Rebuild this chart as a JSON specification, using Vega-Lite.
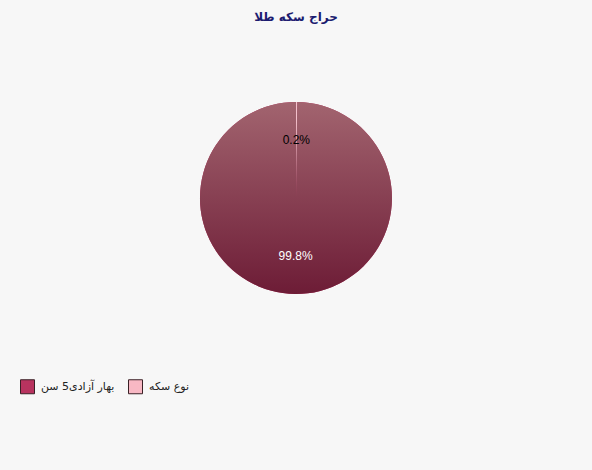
{
  "$schema": "https://vega.github.io/schema/vega-lite/v6.json",
  "width": 572,
  "height": 336,
  "autosize": "none",
  "padding": {"top": 30, "left": 10, "right": 10, "bottom": 104},
  "background": "#f7f7f7",
  "title": {
    "text": "حراج سکه طلا",
    "font": "DejaVu Sans",
    "fontSize": 12,
    "fontWeight": "bold",
    "color": "#1c1c70",
    "anchor": "middle",
    "offset": 6
  },
  "data": {
    "values": [
      {"coin": "نوع سکه", "share": 0.2, "label": "0.2%", "rank": 1},
      {"coin": "بهار آزادی5 سن", "share": 99.8, "label": "99.8%", "rank": 2}
    ]
  },
  "encoding": {
    "theta": {"field": "share", "type": "quantitative", "stack": true},
    "order": {"field": "rank", "type": "ordinal"}
  },
  "layer": [
    {
      "mark": {"type": "arc", "outerRadius": 96},
      "encoding": {
        "color": {
          "field": "coin",
          "type": "nominal",
          "scale": {
            "domain": ["بهار آزادی5 سن", "نوع سکه"],
            "range": ["#b8335f", "#f8b8c4"]
          },
          "legend": {
            "title": null,
            "orient": "none",
            "legendX": 10,
            "legendY": 349,
            "direction": "horizontal",
            "symbolType": "square",
            "symbolSize": 196,
            "symbolStrokeColor": "#3a2026",
            "symbolStrokeWidth": 1,
            "labelFont": "DejaVu Sans",
            "labelFontSize": 11,
            "labelColor": "#222222",
            "labelOffset": 6,
            "columnPadding": 11
          }
        }
      }
    },
    {
      "mark": {"type": "arc", "outerRadius": 96},
      "encoding": {
        "fill": {
          "condition": {
            "test": "datum.rank === 2",
            "value": {
              "gradient": "linear",
              "x1": 0, "y1": 0, "x2": 0, "y2": 1,
              "stops": [
                {"offset": 0, "color": "#a2646f"},
                {"offset": 1, "color": "#6d1c36"}
              ]
            }
          },
          "value": "#f3c0cb"
        }
      }
    },
    {
      "mark": {"type": "text", "radius": 58, "font": "Liberation Sans", "fontSize": 12},
      "encoding": {
        "text": {"field": "label", "type": "nominal"},
        "color": {
          "condition": {"test": "datum.rank === 2", "value": "#ffffff"},
          "value": "#000000"
        }
      }
    }
  ]
}
